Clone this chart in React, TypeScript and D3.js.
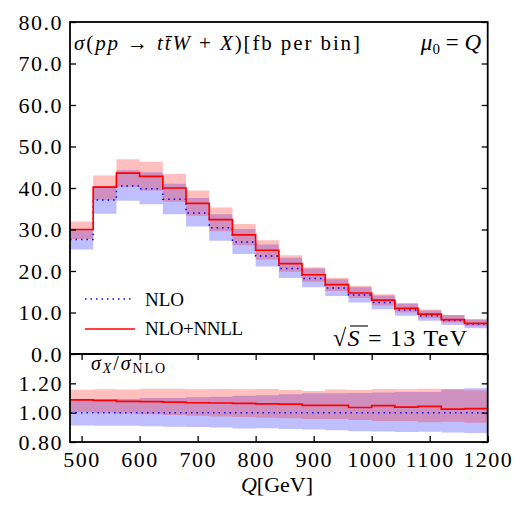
import React, { useEffect, useRef } from "react";
import * as d3 from "d3";

// bin edges in GeV (18 bins of 40 GeV)
const binEdges = [480, 520, 560, 600, 640, 680, 720, 760, 800, 840, 880, 920, 960, 1000, 1040, 1080, 1120, 1160, 1200];

// NLO central and scale band [fb per bin]
const nlo = [27.6, 37.1, 40.5, 39.8, 37.3, 34.0, 30.4, 27.0, 23.6, 20.6, 18.2, 15.9, 14.2, 12.4, 10.6, 9.2, 8.1, 7.2];
const nloLo = [25.2, 33.8, 36.9, 36.1, 33.7, 30.7, 27.3, 24.1, 21.1, 18.3, 16.1, 14.0, 12.4, 10.8, 9.2, 8.0, 7.0, 6.2];
const nloHi = [30.1, 40.4, 44.3, 43.8, 41.0, 37.6, 33.7, 30.1, 26.4, 23.2, 20.6, 18.0, 16.1, 14.1, 12.1, 10.5, 9.4, 8.4];

// NLO+NNLL central and band
const nnll = [30.0, 40.2, 43.6, 42.8, 40.0, 36.3, 32.4, 28.7, 25.0, 21.8, 19.1, 16.7, 14.7, 13.0, 11.0, 9.6, 8.3, 7.4];
const nnllLo = [27.7, 37.1, 40.3, 39.4, 36.7, 33.3, 29.6, 26.2, 22.8, 19.8, 17.4, 15.2, 13.5, 11.7, 10.0, 8.6, 7.6, 6.7];
const nnllHi = [31.9, 43.0, 46.9, 46.3, 43.4, 39.4, 35.3, 31.3, 27.4, 23.8, 20.9, 18.4, 16.4, 14.4, 12.3, 10.7, 9.4, 8.3];

const mainTicks = [0, 10, 20, 30, 40, 50, 60, 70, 80];
const ratioTicks = [0.8, 1.0, 1.2];
const xTicks = [500, 600, 700, 800, 900, 1000, 1100, 1200];

const W = 519;
const H = 505;
const left = 70;
const right = 487.7;
const top = 22;
const mid = 354;
const bottom = 442;
const FONT = "Liberation Serif, DejaVu Serif, serif";

function Chart() {
  const ref = useRef<SVGSVGElement>(null);

  useEffect(() => {
    const svg = d3.select(ref.current);
    svg.selectAll("*").remove();

    const x = d3.scaleLinear().domain([480, 1200]).range([left, right]);
    const yMain = d3.scaleLinear().domain([0, 80]).range([mid, top]);
    const yRatio = d3.scaleLinear().domain([0.8, 1.4]).range([bottom, mid]);

    // step points: one per bin edge, last value repeated at the right edge
    const band = (lo: number[], hi: number[], norm?: number[]) =>
      binEdges.map((e, i) => {
        const k = Math.min(i, lo.length - 1);
        const n = norm ? norm[k] : 1;
        return { x: e, lo: lo[k] / n, hi: hi[k] / n };
      });
    const steps = (v: number[], norm?: number[]) =>
      binEdges.map((e, i) => {
        const k = Math.min(i, v.length - 1);
        return { x: e, v: v[k] / (norm ? norm[k] : 1) };
      });

    const drawPanel = (yScale: d3.ScaleLinear<number, number>, norm?: number[]) => {
      const area = d3
        .area<{ x: number; lo: number; hi: number }>()
        .x((d) => x(d.x))
        .y0((d) => yScale(d.lo))
        .y1((d) => yScale(d.hi))
        .curve(d3.curveStepAfter);
      const line = d3
        .line<{ x: number; v: number }>()
        .x((d) => x(d.x))
        .y((d) => yScale(d.v))
        .curve(d3.curveStepAfter);

      svg.append("path").attr("d", area(band(nloLo, nloHi, norm))).attr("fill", "#0000ff").attr("fill-opacity", 0.25);
      svg.append("path").attr("d", area(band(nnllLo, nnllHi, norm))).attr("fill", "#ff0000").attr("fill-opacity", 0.25);
      svg
        .append("path")
        .attr("d", line(steps(nlo, norm)))
        .attr("fill", "none")
        .attr("stroke", "#0000ff")
        .attr("stroke-width", 1.5)
        .attr("stroke-dasharray", "1.5 4");
      svg
        .append("path")
        .attr("d", line(steps(nnll, norm)))
        .attr("fill", "none")
        .attr("stroke", "#ff0000")
        .attr("stroke-width", 1.7);
    };

    drawPanel(yMain);
    drawPanel(yRatio, nlo);

    const styleAxis = (g: any) => {
      g.select(".domain").remove();
      g.selectAll("line").attr("stroke", "#000").attr("stroke-width", 1.3);
      g.selectAll("text").attr("font-family", FONT).attr("font-size", 22).attr("fill", "#000").attr("letter-spacing", 1.5);
    };

    // main panel y axes
    svg
      .append("g")
      .attr("transform", `translate(${left},0)`)
      .call(d3.axisLeft(yMain).tickValues(mainTicks).tickSize(-6).tickPadding(7).tickFormat(d3.format(".1f")))
      .call(styleAxis);
    svg
      .append("g")
      .attr("transform", `translate(${right},0)`)
      .call(d3.axisRight(yMain).tickValues(mainTicks).tickSize(-6).tickFormat(() => ""))
      .call(styleAxis);

    // ratio panel axes
    svg
      .append("g")
      .attr("transform", `translate(${left},0)`)
      .call(d3.axisLeft(yRatio).tickValues(ratioTicks).tickSize(-6).tickPadding(7).tickFormat(d3.format(".2f")))
      .call(styleAxis);
    svg
      .append("g")
      .attr("transform", `translate(${right},0)`)
      .call(d3.axisRight(yRatio).tickValues(ratioTicks).tickSize(-6).tickFormat(() => ""))
      .call(styleAxis);
    svg
      .append("g")
      .attr("transform", `translate(0,${bottom})`)
      .call(d3.axisBottom(x).tickValues(xTicks).tickSize(-6).tickPadding(9).tickFormat(d3.format("d")))
      .call(styleAxis);
    svg
      .append("g")
      .attr("transform", `translate(0,${mid})`)
      .call(d3.axisTop(x).tickValues(xTicks).tickSize(-6).tickFormat(() => ""))
      .call(styleAxis);

    // frames
    svg
      .append("rect")
      .attr("x", left)
      .attr("y", top)
      .attr("width", right - left)
      .attr("height", bottom - top)
      .attr("fill", "none")
      .attr("stroke", "#000")
      .attr("stroke-width", 1.8);
    svg.append("line").attr("x1", left).attr("x2", right).attr("y1", mid).attr("y2", mid).attr("stroke", "#000").attr("stroke-width", 1.8);

    // title
    const title = svg
      .append("text")
      .attr("x", 74)
      .attr("y", 50)
      .attr("font-family", FONT)
      .attr("font-size", 21)
      .attr("textLength", 286)
      .attr("lengthAdjust", "spacing");
    title.append("tspan").attr("font-style", "italic").text("σ");
    title.append("tspan").text("(");
    title.append("tspan").attr("font-style", "italic").text("pp");
    title.append("tspan").text(" → ");
    title.append("tspan").attr("font-style", "italic").text("tt\u0304W");
    title.append("tspan").text(" + ");
    title.append("tspan").attr("font-style", "italic").text("X");
    title.append("tspan").text(")[fb per bin]");

    const mu = svg
      .append("text")
      .attr("x", 481)
      .attr("y", 50)
      .attr("text-anchor", "end")
      .attr("font-family", FONT)
      .attr("font-size", 23);
    mu.append("tspan").attr("font-style", "italic").text("μ");
    mu.append("tspan").attr("font-size", 15).attr("dy", 4).text("0");
    mu.append("tspan").attr("dy", -4).text(" = ");
    mu.append("tspan").attr("font-style", "italic").text("Q");

    // legend
    svg
      .append("line")
      .attr("x1", 85)
      .attr("x2", 134)
      .attr("y1", 299)
      .attr("y2", 299)
      .attr("stroke", "#0000ff")
      .attr("stroke-width", 1.5)
      .attr("stroke-dasharray", "1.5 4");
    svg.append("text").attr("x", 145).attr("y", 306).attr("font-family", FONT).attr("font-size", 19).text("NLO");
    svg
      .append("line")
      .attr("x1", 85)
      .attr("x2", 135)
      .attr("y1", 329)
      .attr("y2", 329)
      .attr("stroke", "#ff0000")
      .attr("stroke-width", 1.7);
    svg
      .append("text")
      .attr("x", 145)
      .attr("y", 335)
      .attr("font-family", FONT)
      .attr("font-size", 19)
      .attr("textLength", 98)
      .attr("lengthAdjust", "spacing")
      .text("NLO+NNLL");

    // sqrt(S) = 13 TeV
    const rs = svg
      .append("text")
      .attr("x", 333)
      .attr("y", 346)
      .attr("font-family", FONT)
      .attr("font-size", 24)
      .attr("textLength", 134)
      .attr("lengthAdjust", "spacing");
    rs.append("tspan").text("√");
    rs.append("tspan").attr("font-style", "italic").text("S");
    rs.append("tspan").text(" = 13 TeV");
    svg
      .append("line")
      .attr("x1", 350)
      .attr("x2", 368)
      .attr("y1", 326)
      .attr("y2", 326)
      .attr("stroke", "#000")
      .attr("stroke-width", 1.1);

    // ratio label
    const rl = svg
      .append("text")
      .attr("x", 91)
      .attr("y", 370)
      .attr("font-family", FONT)
      .attr("font-size", 20)
      .attr("textLength", 74)
      .attr("lengthAdjust", "spacing");
    rl.append("tspan").attr("font-style", "italic").text("σ");
    rl.append("tspan").attr("font-style", "italic").attr("font-size", 14).attr("dy", 3).text("X");
    rl.append("tspan").attr("dy", -3).text("/");
    rl.append("tspan").attr("font-style", "italic").text("σ");
    rl.append("tspan").attr("font-size", 14).attr("dy", 3).text("NLO");

    // x label
    const xl = svg
      .append("text")
      .attr("x", 277)
      .attr("y", 492)
      .attr("text-anchor", "middle")
      .attr("font-family", FONT)
      .attr("font-size", 22);
    xl.append("tspan").attr("font-style", "italic").text("Q");
    xl.append("tspan").text("[GeV]");
  }, []);

  return <svg ref={ref} width={W} height={H} style={{ position: "absolute", left: 0, top: 0, background: "#fff" }} />;
}

export default function App() {
  return <Chart />;
}
